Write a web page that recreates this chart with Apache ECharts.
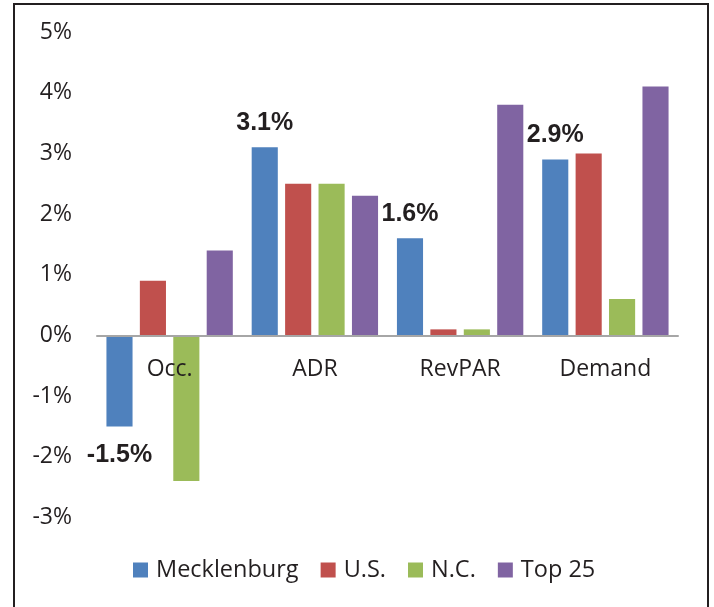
<!DOCTYPE html>
<html>
<head>
<meta charset="utf-8">
<script src="https://cdn.jsdelivr.net/npm/echarts@6/dist/echarts.min.js"></script>
<style>
  html, body { margin: 0; padding: 0; background: #fff; }
  #chart { width: 714px; height: 607px; position: relative; }
  #frame {
    position: absolute; left: 13px; top: 3px; width: 692px; height: 620px;
    border: 2px solid #231f20; box-sizing: content-box; pointer-events: none;
  }
</style>
</head>
<body>
<div id="chart"></div>
<div id="frame"></div>
<script>
// Year-over-year change by metric (%)
const categories = ['Occ.', 'ADR', 'RevPAR', 'Demand'];
const mecklenburg = [-1.5, 3.1, 1.6, 2.9];
const us = [0.9, 2.5, 0.1, 3.0];
const nc = [-2.4, 2.5, 0.1, 0.6];
const top25 = [1.4, 2.3, 3.8, 4.1];
const yTicks = { min: -3, max: 5, interval: 1 };

const textFont = '"Open Sans", sans-serif';
const colors = ['#4F81BD', '#C0504D', '#9BBB59', '#8064A2'];

const gridTop = 32;
const gridBottom = 89.5;
const plotHeight = 607 - gridTop - gridBottom;

const chart = echarts.init(document.getElementById('chart'), null, { renderer: 'canvas' });

// Pixel distance from the bottom of the plot up to the zero line
const zeroOffset = plotHeight * (0 - yTicks.min) / (yTicks.max - yTicks.min);

function bars(name, values, withLabels) {
  return {
    name: name,
    type: 'bar',
    z: 2,
    barGap: '28%',
    barCategoryGap: '13%',
    data: values.map(v => {
      const item = { value: v };
      if (withLabels) {
        item.label = {
          show: true,
          position: v < 0 ? 'bottom' : 'top',
          distance: v < 0 ? 16 : 12,
          formatter: p => p.value.toFixed(1) + '%',
          fontFamily: '"Liberation Sans", Arial, sans-serif',
          fontWeight: 'bold',
          fontSize: 25,
          color: '#231f20'
        };
      }
      return item;
    })
  };
}

chart.setOption({
  color: colors,
  animation: false,
  grid: { left: 97, right: 36, top: gridTop, bottom: gridBottom },
  legend: {
    bottom: 20,
    left: 128,
    itemWidth: 15,
    itemHeight: 15,
    itemGap: 22,
    icon: 'rect',
    textStyle: { fontFamily: textFont, fontSize: 23.5, color: '#231f20', padding: [0, 0, 0, 3] },
    data: ['Mecklenburg', 'U.S.', 'N.C.', 'Top 25']
  },
  xAxis: {
    type: 'category',
    data: categories,
    z: 5,
    offset: -zeroOffset,
    axisLine: { onZero: false, lineStyle: { color: '#a6a6a6', width: 2 } },
    axisTick: { show: false },
    axisLabel: { margin: 23, fontFamily: textFont, fontSize: 23, color: '#231f20' }
  },
  yAxis: {
    type: 'value',
    min: yTicks.min,
    max: yTicks.max,
    interval: yTicks.interval,
    splitLine: { show: false },
    axisLine: { show: false },
    axisTick: { show: false },
    axisLabel: {
      margin: 25,
      formatter: v => v + '%',
      fontFamily: textFont,
      fontSize: 23,
      color: '#231f20'
    }
  },
  series: [
    bars('Mecklenburg', mecklenburg, true),
    bars('U.S.', us, false),
    bars('N.C.', nc, false),
    bars('Top 25', top25, false)
  ]
});
</script>
</body>
</html>
